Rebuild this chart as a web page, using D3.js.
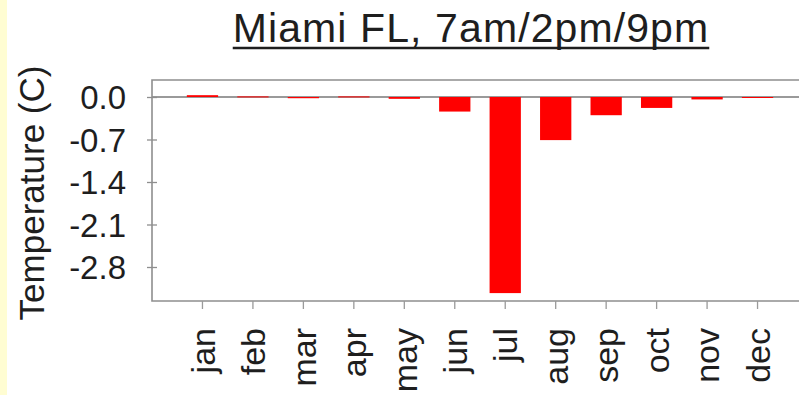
<!DOCTYPE html>
<html>
<head>
<meta charset="utf-8">
<script src="https://cdn.jsdelivr.net/npm/d3@7"></script>
<style>
  html, body { margin: 0; padding: 0; background: #ffffff; }
  svg { display: block; }
  text { font-family: "Liberation Sans", Arial, Helvetica, sans-serif; fill: #1e1e1e; }
</style>
</head>
<body>
<script>
// Monthly temperature difference, Miami FL (7am/2pm/9pm observation schedule)
const months = ["jan", "feb", "mar", "apr", "may", "jun", "jul", "aug", "sep", "oct", "nov", "dec"];
const tempDiff = [0.03, 0.01, -0.02, 0.01, -0.03, -0.24, -3.23, -0.71, -0.30, -0.18, -0.04, -0.01];
const yTicks = [0.0, -0.7, -1.4, -2.1, -2.8];
const yDomain = [-3.36, 0.28];
const chartTitle = "Miami FL, 7am/2pm/9pm";
const yTitle = "Temperature (C)";

const W = 799, H = 395;
const plot = { left: 152, top: 80, bottom: 301, right: 808 };

const svg = d3.select("body").append("svg")
  .attr("width", W).attr("height", H);

svg.append("rect").attr("width", W).attr("height", H).attr("fill", "#ffffff");
// pale strip along the left edge of the page
svg.append("rect").attr("x", 0).attr("y", 0).attr("width", 7).attr("height", H).attr("fill", "#fffdd2");

const x = d3.scaleBand()
  .domain(months)
  .range([plot.left, plot.right])
  .paddingInner(0.38)
  .paddingOuter(0.69);

const y = d3.scaleLinear()
  .domain(yDomain)
  .range([plot.bottom, plot.top]);

// zero reference line
svg.append("line")
  .attr("x1", plot.left).attr("x2", W + 10)
  .attr("y1", y(0)).attr("y2", y(0))
  .attr("stroke", "#9a9a9a").attr("stroke-width", 2);

// bars
svg.append("g").selectAll("rect")
  .data(months.map((m, i) => ({ m, v: tempDiff[i] })))
  .join("rect")
  .attr("x", d => x(d.m))
  .attr("width", x.bandwidth())
  .attr("y", d => Math.min(y(d.v), y(0)))
  .attr("height", d => Math.max(Math.abs(y(d.v) - y(0)), 1))
  .attr("fill", "#ff0000");

// plot frame (left, top, bottom)
const frame = svg.append("g").attr("stroke", "#8e8e8e").attr("stroke-width", 1.6).attr("fill", "none");
frame.append("path")
  .attr("d", `M${W + 10},${plot.top}H${plot.left}V${plot.bottom}H${W + 10}`);

// y axis
const yAxis = svg.append("g")
  .attr("transform", `translate(${plot.left},0)`)
  .call(d3.axisLeft(y).tickValues(yTicks).tickSize(5).tickPadding(21)
    .tickFormat(d => d.toFixed(1)));
yAxis.select(".domain").remove();
yAxis.selectAll(".tick line").attr("x1", 5).attr("x2", -5)
  .attr("stroke", "#8e8e8e").attr("stroke-width", 1.3);
yAxis.selectAll(".tick text")
  .attr("font-size", 33).attr("font-family", null).attr("fill", "#1e1e1e")
  .attr("dy", "0.36em");

// x axis
const xAxis = svg.append("g")
  .attr("transform", `translate(0,${plot.bottom})`)
  .call(d3.axisBottom(x).tickSize(8).tickPadding(4));
xAxis.select(".domain").remove();
xAxis.selectAll(".tick line").attr("stroke", "#9a9a9a").attr("stroke-width", 1.3);
xAxis.selectAll(".tick text")
  .attr("font-size", 34).attr("font-family", null).attr("fill", "#1e1e1e")
  .attr("text-anchor", "end")
  .attr("transform", "rotate(-90)")
  .attr("x", -27).attr("y", 0).attr("dy", "0.36em");

// y axis title
svg.append("text")
  .attr("transform", "translate(44,193) rotate(-90)")
  .attr("text-anchor", "middle")
  .attr("font-size", 35)
  .text(yTitle);

// chart title with underline
const title = svg.append("text")
  .attr("x", 471).attr("y", 42)
  .attr("text-anchor", "middle")
  .attr("font-size", 41)
  .attr("letter-spacing", 1.1)
  .text(chartTitle);
const tb = title.node().getBBox();
svg.append("line")
  .attr("x1", tb.x).attr("x2", tb.x + tb.width)
  .attr("y1", 48).attr("y2", 48)
  .attr("stroke", "#1e1e1e").attr("stroke-width", 2.5);
</script>
</body>
</html>
